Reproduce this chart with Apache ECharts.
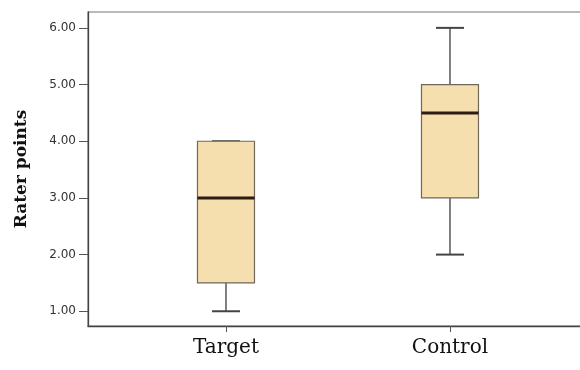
<!DOCTYPE html>
<html>
<head>
<meta charset="utf-8">
<script src="https://cdn.jsdelivr.net/npm/echarts@6/dist/echarts.min.js"></script>
<style>
html,body{margin:0;padding:0;background:#fff;}
#chart{width:580px;height:370px;}
</style>
</head>
<body>
<div id="chart"></div>
<script>
// ---- data ----
var categories = ['Target', 'Control'];
var mins    = [1.0, 2.0];
var q1s     = [1.5, 3.0];
var medians = [3.0, 4.5];
var q3s     = [4.0, 5.0];
var maxs    = [4.0, 6.0];
var yTicks  = [1, 2, 3, 4, 5, 6];
var yAxisName = 'Rater points';

var boxData = categories.map(function (c, i) {
  return [i + 1, mins[i], q1s[i], medians[i], q3s[i], maxs[i]];
});

var BOX_W = 57, CAP_W = 28;
var lineStyle = { stroke: '#555', lineWidth: 1.5 };

function renderItem(params, api) {
  var x = api.value(0);
  var pMin = api.coord([x, api.value(1)]);
  var pQ1 = api.coord([x, api.value(2)]);
  var pMed = api.coord([x, api.value(3)]);
  var pQ3 = api.coord([x, api.value(4)]);
  var pMax = api.coord([x, api.value(5)]);
  var cx = pMin[0];
  var hb = BOX_W / 2, hc = CAP_W / 2;
  return {
    type: 'group',
    children: [
      { type: 'line', shape: { x1: cx, y1: pMin[1], x2: cx, y2: pQ1[1] }, style: lineStyle },
      { type: 'line', shape: { x1: cx, y1: pQ3[1], x2: cx, y2: pMax[1] }, style: lineStyle },
      { type: 'line', shape: { x1: cx - hc, y1: pMin[1], x2: cx + hc, y2: pMin[1] }, style: { stroke: '#444', lineWidth: 2 } },
      { type: 'line', shape: { x1: cx - hc, y1: pMax[1], x2: cx + hc, y2: pMax[1] }, style: { stroke: '#444', lineWidth: 2 } },
      { type: 'rect', shape: { x: cx - hb, y: pQ3[1], width: BOX_W, height: pQ1[1] - pQ3[1] },
        style: { fill: '#F6DFAE', stroke: '#6f675c', lineWidth: 1.2 } },
      { type: 'line', shape: { x1: cx - hb, y1: pMed[1], x2: cx + hb, y2: pMed[1] }, style: { stroke: '#2b1d14', lineWidth: 3 } }
    ]
  };
}

var chart = echarts.init(document.getElementById('chart'), null, { renderer: 'canvas' });
chart.setOption({
  animation: false,
  backgroundColor: '#ffffff',
  grid: {
    left: 88, top: 12, width: 520, bottom: 44,
    outerBoundsMode: 'none',
    containLabel: false,
    show: true, borderColor: '#777', borderWidth: 1.2, backgroundColor: 'transparent'
  },
  xAxis: {
    type: 'value',
    min: 0.384, max: 0.384 + 520 / 224,
    splitLine: { show: false },
    axisLine: { show: true, lineStyle: { color: '#444', width: 1.3 } },
    axisTick: { show: true, customValues: [1, 2], length: 6, inside: false, lineStyle: { color: '#555' } },
    axisLabel: {
      customValues: [1, 2],
      formatter: function (v) { return categories[Math.round(v) - 1] || ''; },
      fontFamily: 'DejaVu Serif', fontSize: 20, color: '#111', margin: 12
    }
  },
  yAxis: {
    type: 'value',
    min: 0.74, max: 6.28,
    name: yAxisName,
    nameLocation: 'middle',
    nameGap: 58,
    nameRotate: 90,
    nameTextStyle: { fontFamily: 'DejaVu Serif', fontWeight: 'bold', fontSize: 17, color: '#111' },
    splitLine: { show: false },
    axisLine: { show: true, lineStyle: { color: '#444', width: 1.3 } },
    axisTick: { show: true, customValues: yTicks, length: 9, lineStyle: { color: '#555' } },
    axisLabel: {
      customValues: yTicks,
      formatter: function (v) { return v.toFixed(2); },
      fontFamily: 'DejaVu Sans', fontSize: 12, color: '#333', margin: 12
    }
  },
  series: [{
    type: 'custom',
    renderItem: renderItem,
    encode: { x: 0, y: [1, 2, 3, 4, 5] },
    data: boxData
  }]
});
</script>
</body>
</html>
